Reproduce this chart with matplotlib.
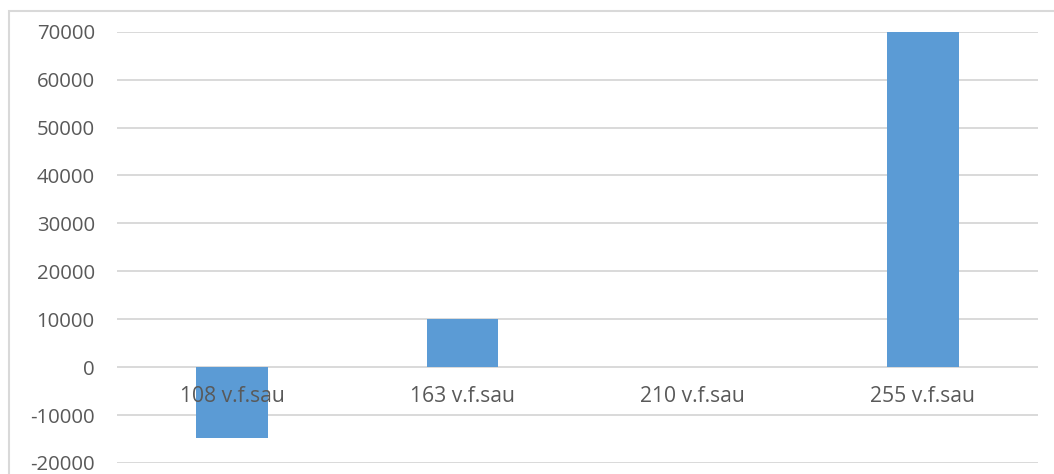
import matplotlib
matplotlib.use("Agg")
import matplotlib.pyplot as plt
from matplotlib.patches import Rectangle

categories = ["108 v.f.sau", "163 v.f.sau", "210 v.f.sau", "255 v.f.sau"]
values = [-14800, 10000, 0, 70000]
yticks = list(range(-20000, 70001, 10000))

plt.rcParams['font.family'] = ['Open Sans', 'DejaVu Sans']
txt = '#595959'
grid = '#D9D9D9'

fig = plt.figure(figsize=(10.54, 4.74), dpi=100)
ax = fig.add_axes([117/1054, (474-463)/474, (1038-117)/1054, (463-31.7)/474])

ax.bar(range(len(categories)), values, width=0.31, color='#5B9BD5', zorder=3)
ax.set_xlim(-0.5, len(categories) - 0.5)
ax.set_ylim(-20000, 70000)
ax.set_yticks(yticks)
ax.set_yticklabels([str(v) for v in yticks], color=txt, fontsize=14.7)
ax.set_xticks([])
ax.yaxis.grid(True, color=grid, linewidth=1.4, zorder=0)
ax.tick_params(axis='y', length=0, pad=16)
for s in ax.spines.values():
    s.set_visible(False)

for i, c in enumerate(categories):
    ax.annotate(c, xy=(i, 0), xytext=(0, -29), textcoords='offset pixels',
                ha='center', va='center', color=txt, fontsize=15.2, zorder=4)

# outer chart border (only top and left edges visible in the crop)
fig.patches.append(Rectangle((8.5/1054, -0.1), 2, (474-11.5)/474 + 0.1,
                             transform=fig.transFigure, fill=False,
                             edgecolor=grid, linewidth=1.5))

fig.savefig("out.png", dpi=100)
